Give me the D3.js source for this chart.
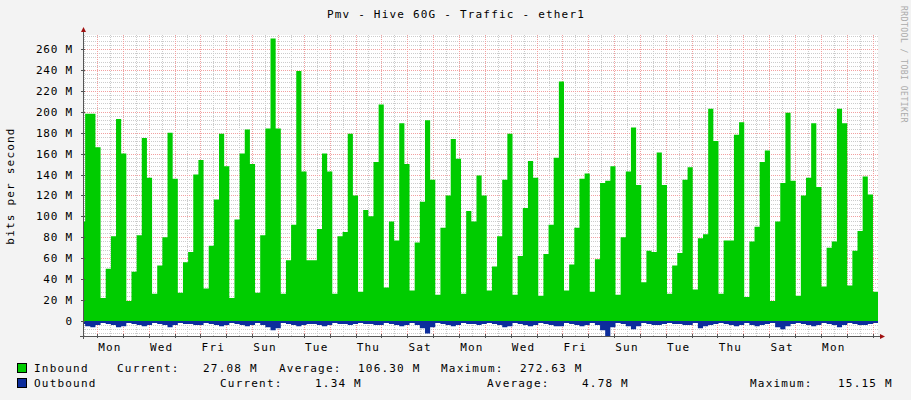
<!DOCTYPE html>
<html><head><meta charset="utf-8">
<script src="https://cdn.jsdelivr.net/npm/d3@7"></script>
<style>body{margin:0;background:#f3f3f3}svg{display:block}text{font-family:"DejaVu Sans Mono",monospace;font-size:11px;fill:#000;letter-spacing:1.2px}</style>
</head><body><svg id="c" width="911" height="400"></svg>
<script>
const inbound = [95,198,198,166,22,50,81,193,160,19,47,82,175,137,26,53,80,180,136,27,56,66,140,154,31,72,116,179,148,22,97,160,183,150,27,82,184,270,184,
26,58,92,239,143,58,58,88,160,143,26,81,85,179,120,28,106,100,152,207,32,95,77,189,150,29,75,114,192,135,25,89,120,174,155,26,105,95,139,
120,29,52,81,135,179,25,62,108,153,137,24,64,92,156,229,29,54,89,136,141,28,59,132,134,148,25,80,143,185,130,37,67,66,161,130,26,53,65,
135,147,30,79,83,203,172,26,77,77,178,190,23,76,90,152,163,19,95,132,199,134,24,120,137,189,128,33,70,76,203,189,34,67,86,138,121,28];
const outbound = [3,5,6,4,2,3,4,6,5,2,3,4,5,4,2,3,4,6,4,2,3,3,4,4,2,3,4,5,4,2,3,4,5,4,2,4,6,9,7,
2,3,4,5,4,3,3,4,5,4,2,3,3,4,3,2,3,3,4,4,2,3,4,5,4,2,4,7,12,6,2,3,4,5,4,2,3,3,4,
3,2,3,4,6,5,2,3,4,5,4,2,3,4,5,5,2,3,4,5,4,2,4,9,15,6,2,3,5,8,5,2,3,4,4,3,2,3,3,
4,4,2,7,5,4,3,2,3,4,5,4,2,4,5,4,3,2,6,8,5,3,2,3,4,5,4,2,3,4,6,4,2,3,4,4,3,2];
const yTicks = [0,20,40,60,80,100,120,140,160,180,200,220,240,260];
const dayLabels = ["Mon","Wed","Fri","Sun","Tue","Thu","Sat","Mon","Wed","Fri","Sun","Tue","Thu","Sat","Mon"];
const legendRows = [
  {name:"Inbound", color:"#00cc00", parts:[["Current:",117],["27.08 M",203],["Average:",279],["106.30 M",358],["Maximum:",441],["272.63 M",520]]},
  {name:"Outbound", color:"#0c2d9c", parts:[["Current:",220],["1.34 M",315],["Average:",487],["4.78 M",582],["Maximum:",750],["15.15 M",838]]}
];
const svg = d3.select("#c");
const L=83,R=878,T=35,B=336;
const x = d3.scaleLinear().domain([0,738]).range([L,R]);      // hours since left edge
const y = d3.scaleLinear().domain([-14.4,273.4]).range([B,T]);
const stepH = 4.78, t0 = -2.8;
svg.append("rect").attr("x",L).attr("y",T).attr("width",R-L).attr("height",B-T).attr("fill","#fff");
const g = svg.append("g");
d3.range(-12,274,4).forEach(v=>{ if(v%20!==0) g.append("line").attr("x1",L).attr("x2",R).attr("y1",Math.round(y(v))+.5).attr("y2",Math.round(y(v))+.5).attr("stroke","#ccc").attr("stroke-dasharray","1,1");});
for(let h=1;h<738;h+=24){ g.append("line").attr("x1",Math.round(x(h))+.5).attr("x2",Math.round(x(h))+.5).attr("y1",T).attr("y2",B).attr("stroke","#ccc").attr("stroke-dasharray","1,1");}
for(let h=13;h<738;h+=24){ g.append("line").attr("x1",Math.round(x(h))+.5).attr("x2",Math.round(x(h))+.5).attr("y1",T).attr("y2",B).attr("stroke","#f2a0a0").attr("stroke-dasharray","1,1");}
yTicks.forEach(v=>{ g.append("line").attr("x1",L).attr("x2",R).attr("y1",Math.round(y(v))+.5).attr("y2",Math.round(y(v))+.5).attr("stroke","#f2a0a0").attr("stroke-dasharray","1,1");});
svg.append("defs").append("clipPath").attr("id","cp").append("rect").attr("x",L).attr("y",T).attr("width",R-L).attr("height",B-T);
const pts = arr => { const p=[]; arr.forEach((v,i)=>{p.push([t0+i*stepH,v]);}); p.push([t0+arr.length*stepH,arr[arr.length-1]]); return p;};
const area = d3.area().x(d=>x(d[0])).y0(y(0)).y1(d=>y(d[1])).curve(d3.curveStepAfter);
const cg = svg.append("g").attr("clip-path","url(#cp)");
cg.append("path").datum(pts(inbound)).attr("d",area).attr("fill","#00cc00");
cg.append("path").datum(pts(outbound.map(v=>-v))).attr("d",area).attr("fill","#0c2d9c");
svg.append("line").attr("x1",L+.5).attr("x2",L+.5).attr("y1",B+3).attr("y2",T-5).attr("stroke","#555");
svg.append("path").attr("d",`M${L-2},${T-3}L${L+3},${T-3}L${L+.5},${T-8}Z`).attr("fill","#a01010");
svg.append("line").attr("x1",L-3).attr("x2",R+3).attr("y1",B+.5).attr("y2",B+.5).attr("stroke","#555");
svg.append("path").attr("d",`M${R+2},${B-2}L${R+2},${B+3}L${R+7},${B+.5}Z`).attr("fill","#a01010");
yTicks.forEach(v=>{
  svg.append("line").attr("x1",L-2).attr("x2",L+2).attr("y1",Math.round(y(v))+.5).attr("y2",Math.round(y(v))+.5).attr("stroke","#555");
  svg.append("text").attr("x",73).attr("y",y(v)+4).attr("text-anchor","end").attr("style","letter-spacing:0.8px").text(v===0?"0":v+" M");
});
dayLabels.forEach((d,i)=>{ svg.append("text").attr("x",x(25+48*i)).attr("y",351).attr("text-anchor","middle").text(d);});
for(let h=13;h<738;h+=24){ svg.append("line").attr("x1",Math.round(x(h))+.5).attr("x2",Math.round(x(h))+.5).attr("y1",B-2).attr("y2",B+2).attr("stroke","#555");}
svg.append("text").attr("x",456).attr("y",18).attr("text-anchor","middle").text("Pmv - Hive 60G - Traffic - ether1");
svg.append("text").attr("transform","translate(14,186) rotate(-90)").attr("text-anchor","middle").text("bits per second");
svg.append("text").attr("transform","translate(901,6) rotate(90)").attr("style","font-size:8px;fill:#aaa;letter-spacing:0.5px").text("RRDTOOL / TOBI OETIKER");
legendRows.forEach((r,i)=>{
  const yy = 372+15*i;
  svg.append("rect").attr("x",17.5).attr("y",yy-8.5).attr("width",9).attr("height",9).attr("fill",r.color).attr("stroke","#000");
  svg.append("text").attr("x",34).attr("y",yy).text(r.name);
  r.parts.forEach(p=>svg.append("text").attr("x",p[1]).attr("y",yy).text(p[0]));
});
</script></body></html>
